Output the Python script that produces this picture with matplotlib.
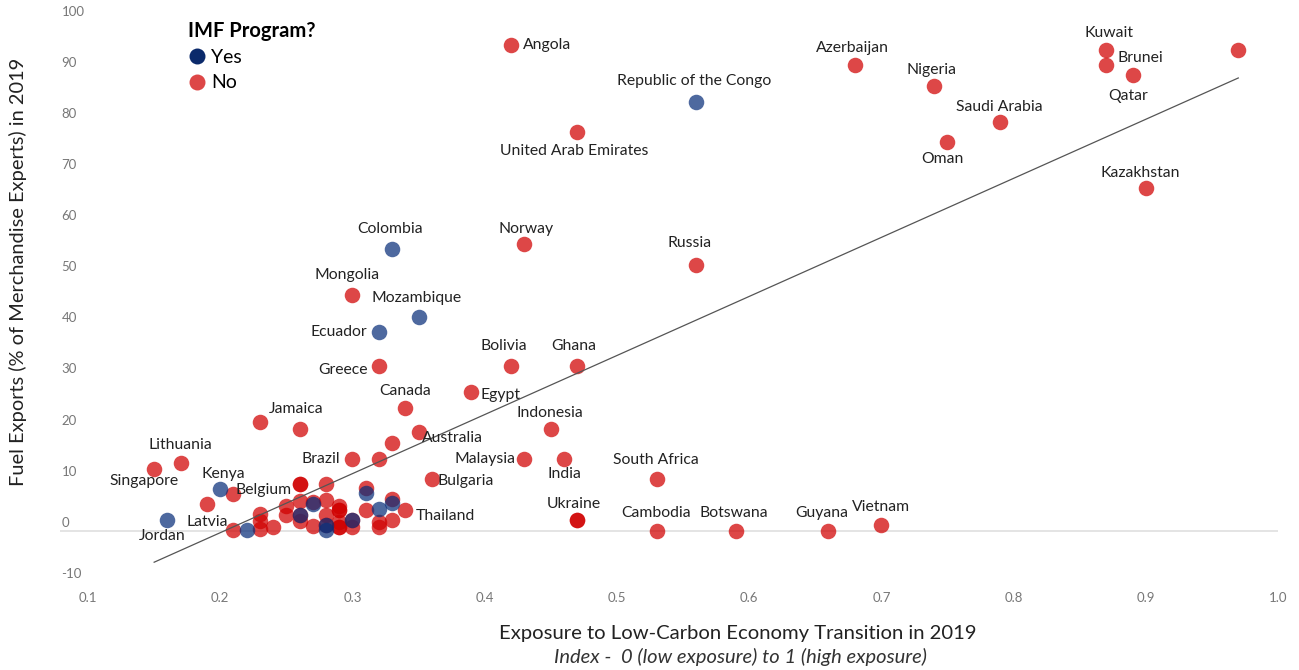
import matplotlib.pyplot as plt
from matplotlib.lines import Line2D
from matplotlib.transforms import ScaledTranslation
import numpy as np

plt.rcParams['font.family'] = ['Lato', 'DejaVu Sans']

###################################################################################
#  Data
###################################################################################
country = [
    'Angola', 'Azerbaijan', 'Nigeria', 'Kuwait', 'Brunei', 'Qatar', '',
    'Republic of the Congo', 'Saudi Arabia', 'Oman', 'United Arab Emirates', 'Kazakhstan',
    'Colombia', 'Norway', 'Russia', 'Mongolia', 'Mozambique', 'Ecuador',
    'Greece', 'Bolivia', 'Ghana', 'Egypt', 'Canada', 'Jamaica', '',
    'Indonesia', 'Australia', '', 'Brazil', '', 'Malaysia', 'India',
    'Lithuania', 'Singapore', 'South Africa', 'Bulgaria', 'Kenya', 'Belgium', '',
    'Jordan', 'Latvia', 'Ukraine', '', 'Thailand', 'Cambodia', 'Botswana', 'Guyana', 'Vietnam',
    # dense cluster around 0.2 - 0.34
    '', '', '', '', '',
    '', '', '', '', '',
    '', '', '', '', '',
    '', '', '', '', '',
    '', '', '', '', '',
    '', '', '', '', '',
    '', '', '', '', '',
    '', '', '', '', '',
]
exposure = [
    0.42, 0.68, 0.74, 0.87, 0.87, 0.89, 0.97,
    0.56, 0.79, 0.75, 0.47, 0.90,
    0.33, 0.43, 0.56, 0.30, 0.35, 0.32,
    0.32, 0.42, 0.47, 0.39, 0.34, 0.23, 0.26,
    0.45, 0.35, 0.33, 0.30, 0.32, 0.43, 0.46,
    0.17, 0.15, 0.53, 0.36, 0.20, 0.21, 0.19,
    0.16, 0.21, 0.47, 0.47, 0.34, 0.53, 0.59, 0.66, 0.70,
    0.22, 0.23, 0.23, 0.23, 0.24,
    0.25, 0.25, 0.26, 0.26, 0.26,
    0.26, 0.26, 0.26, 0.27, 0.27,
    0.27, 0.28, 0.28, 0.28, 0.28,
    0.28, 0.28, 0.29, 0.29, 0.29,
    0.29, 0.29, 0.29, 0.30, 0.30,
    0.30, 0.31, 0.31, 0.31, 0.32,
    0.32, 0.32, 0.33, 0.33, 0.33,
]
fuel_share = [
    95.0, 91.2, 87.0, 94.1, 91.2, 89.2, 94.1,
    83.9, 80.0, 76.1, 78.0, 67.0,
    55.1, 56.1, 52.0, 46.1, 41.9, 39.0,
    32.2, 32.2, 32.2, 27.1, 24.1, 21.2, 20.0,
    19.9, 19.3, 17.1, 14.0, 14.0, 14.0, 14.0,
    13.2, 12.1, 10.1, 10.1, 8.1, 7.2, 5.2,
    2.1, 0.1, 2.1, 2.1, 4.0, 0.0, 0.0, 0.0, 1.1,
    0.1, 3.3, 2.0, 0.3, 0.8,
    4.9, 3.0, 9.2, 9.2, 5.9,
    3.0, 3.0, 2.0, 5.6, 5.2,
    1.0, 9.2, 6.1, 3.1, 1.1,
    0.1, 1.1, 4.8, 4.0, 4.0,
    1.8, 0.8, 0.8, 2.1, 2.1,
    0.8, 8.3, 7.3, 4.0, 4.2,
    1.8, 0.8, 6.3, 5.4, 2.1,
]
imf_program = [
    'No', 'No', 'No', 'No', 'No', 'No', 'No',
    'Yes', 'No', 'No', 'No', 'No',
    'Yes', 'No', 'No', 'No', 'Yes', 'Yes',
    'No', 'No', 'No', 'No', 'No', 'No', 'No',
    'No', 'No', 'No', 'No', 'No', 'No', 'No',
    'No', 'No', 'No', 'No', 'Yes', 'No', 'No',
    'Yes', 'No', 'No', 'No', 'No', 'No', 'No', 'No', 'No',
    'Yes', 'No', 'No', 'No', 'No',
    'No', 'No', 'No', 'No', 'No',
    'No', 'Yes', 'No', 'No', 'Yes',
    'No', 'No', 'No', 'No', 'Yes',
    'Yes', 'No', 'No', 'No', 'No',
    'No', 'No', 'No', 'No', 'Yes',
    'No', 'No', 'Yes', 'No', 'Yes',
    'No', 'No', 'No', 'Yes', 'No',
]

# trend line as drawn in the reference
trend_range = [0.15, 0.97]
trend_slope = 115.6
trend_intercept = -23.5

y_ticks = list(range(-10, 101, 10))
x_ticks = [0.1, 0.2, 0.3, 0.4, 0.5, 0.6, 0.7, 0.8, 0.9, 1.0]

# label placement: (dx px, dy px, horizontal alignment)
label_pos = {
    'Angola': (12, 0, 'left'), 'Azerbaijan': (-2, 17, 'center'), 'Nigeria': (-3, 16, 'center'),
    'Kuwait': (3, 17, 'center'), 'Brunei': (11, 7, 'left'), 'Qatar': (-4, -21, 'center'),
    'Republic of the Congo': (-2, 21, 'center'), 'Saudi Arabia': (-1, 15, 'center'),
    'Oman': (-5, -17, 'center'), 'United Arab Emirates': (-3, -19, 'center'),
    'Kazakhstan': (-5, 15, 'center'), 'Colombia': (-2, 20, 'center'), 'Norway': (2, 15, 'center'),
    'Russia': (-7, 22, 'center'), 'Mongolia': (-5, 20, 'center'), 'Mozambique': (-2, 19, 'center'),
    'Ecuador': (-12, 0, 'right'), 'Greece': (-11, -4, 'right'), 'Bolivia': (-7, 20, 'center'),
    'Ghana': (-3, 20, 'center'), 'Egypt': (9, -3, 'left'), 'Canada': (0, 17, 'center'),
    'Jamaica': (9, 13, 'left'), 'Indonesia': (-1, 16, 'center'), 'Australia': (3, -6, 'left'),
    'Brazil': (-12, 0, 'right'), 'Malaysia': (-9, 0, 'right'), 'India': (0, -15, 'center'),
    'Lithuania': (0, 18, 'center'), 'Singapore': (-10, -12, 'center'),
    'South Africa': (-1, 19, 'center'), 'Bulgaria': (6, -2, 'left'), 'Kenya': (3, 15, 'center'),
    'Belgium': (2, 4, 'left'), 'Jordan': (-5, -16, 'center'), 'Latvia': (-5, 8, 'right'),
    'Ukraine': (-3, 16, 'center'), 'Thailand': (10, -6, 'left'), 'Cambodia': (0, 18, 'center'),
    'Botswana': (-2, 18, 'center'), 'Guyana': (-7, 18, 'center'), 'Vietnam': (0, 18, 'center'),
}

RED = '#d00000'
BLUE = '#0a2f7a'
NAVY = '#0b2a6b'

###################################################################################
#  Plot
###################################################################################
fig = plt.figure(figsize=(12.99, 6.70), dpi=100)
ax = fig.add_axes([0.0462, 0.1316, 0.9376, 0.8387])

x = np.array(exposure)
y = np.array(fuel_share)
imf = np.array(imf_program)

ax.axhline(0, color='#e2e2e2', lw=1.3, zorder=0)

no = imf == 'No'
ax.scatter(x[no], y[no], s=125, color=RED, alpha=0.72, linewidths=0, zorder=2)
ax.scatter(x[~no], y[~no], s=125, color=BLUE, alpha=0.72, linewidths=0, zorder=3)

tx = np.array(trend_range)
ax.plot(tx, trend_slope * tx + trend_intercept, color='#555555', lw=0.9, zorder=4)

for name, xi, yi in zip(country, exposure, fuel_share):
    if not name:
        continue
    dx, dy, ha = label_pos[name]
    ax.annotate(name, (xi, yi), xytext=(dx, dy), textcoords='offset pixels',
                ha=ha, va='center', fontsize=11.3, color='#222222', zorder=5)

ax.set_xlim(0.0788, 1.0)
ax.set_ylim(-10, 100)
ax.set_xticks(x_ticks)
ax.set_xticklabels([f'{v:.1f}' for v in x_ticks])
ax.set_yticks(y_ticks)
ax.set_yticklabels([str(v) for v in y_ticks])
ax.tick_params(axis='x', length=0, pad=7, labelsize=9.5, labelcolor='#777777')
ax.tick_params(axis='y', length=0, pad=-1, labelsize=9.5, labelcolor='#777777')
for tick in ax.yaxis.get_major_ticks():
    tick.label1.set_horizontalalignment('left')
    tick.label1.set_transform(tick.label1.get_transform()
                              + ScaledTranslation(0, 0.09, fig.dpi_scale_trans))
for s in ax.spines.values():
    s.set_visible(False)

fig.text(738 / 1299, 1 - 634 / 670, 'Exposure to Low-Carbon Economy Transition in 2019',
         ha='center', va='center', fontsize=14.6, color='#222222')
fig.text(741 / 1299, 1 - 657 / 670, 'Index -  0 (low exposure) to 1 (high exposure)',
         ha='center', va='center', fontsize=14.5, style='italic', color='#333333')
fig.text(18 / 1299, 1 - 272 / 670, 'Fuel Exports (% of Merchandise Experts) in 2019',
         ha='center', va='center', rotation=90, fontsize=14.4, color='#222222')

handles = [
    Line2D([], [], marker='o', ls='', markersize=11.5, markerfacecolor=NAVY, markeredgewidth=0),
    Line2D([], [], marker='o', ls='', markersize=11.5, markerfacecolor=RED, alpha=0.72, markeredgewidth=0),
]
leg = fig.legend(handles, ['Yes', 'No'], title='IMF Program?', loc='upper left',
                 bbox_to_anchor=(188 / 1299, 1 - 21 / 670), frameon=False, borderpad=0,
                 handlelength=0.9, handletextpad=0.3, labelspacing=0.42, borderaxespad=0,
                 fontsize=14, alignment='left',
                 title_fontproperties={'weight': 'bold', 'size': 14.5})

fig.savefig('out.png', dpi=100)
